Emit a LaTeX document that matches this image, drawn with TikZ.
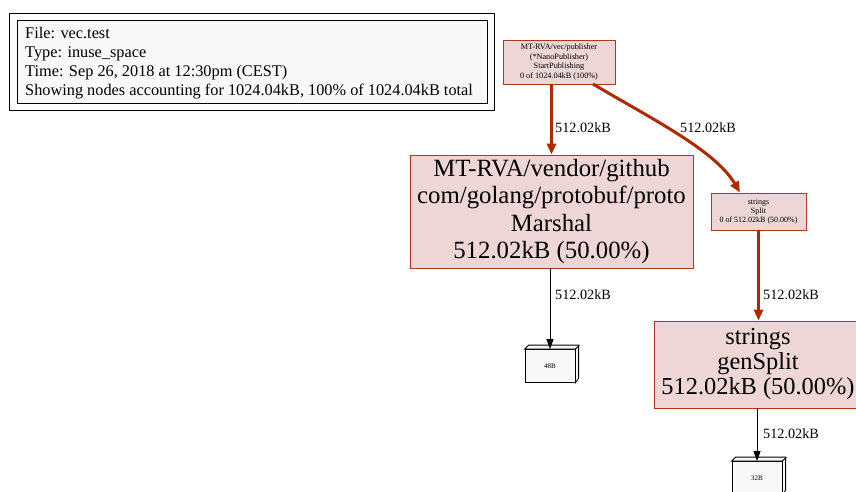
\documentclass[tikz,border=0pt]{standalone}
\usepackage{fontspec}
\setmainfont{Liberation Serif}
\usetikzlibrary{arrows.meta}
\definecolor{nodefill}{HTML}{EDD6D5}
\definecolor{nodeedge}{HTML}{B2361E}
\definecolor{hotedge}{HTML}{B22800}
\definecolor{boxfill}{HTML}{F8F8F8}
\tikzset{
  fn/.style={draw=nodeedge, fill=nodefill, line width=0.8pt, align=center, inner sep=0pt},
  hot/.style={draw=hotedge, line width=3pt, -{Triangle[length=11pt,width=9pt]}},
  cold/.style={draw=black, line width=0.8pt, -{Triangle[length=10pt,width=7pt]}},
  elabel/.style={font=\fontsize{14.2}{16}\selectfont, anchor=west, inner sep=0pt},
}
\begin{document}
\begin{tikzpicture}[x=1pt,y=-1pt]
\useasboundingbox (0,0) rectangle (856,491);
% legend
\draw[line width=0.8pt] (9,13) rectangle (494,110);
\node[draw, fill=boxfill, line width=0.8pt, minimum width=470pt, minimum height=83pt, anchor=north west, inner sep=0pt] (legendbox) at (17,20) {};
\node[anchor=north west, align=left, inner sep=0pt, font=\fontsize{16.3}{19}\selectfont] (legend) at (25,26.5)
 {File: vec.test\\Type: inuse\_space\\Time: Sep 26, 2018 at 12:30pm (CEST)\\Showing nodes accounting for 1024.04kB, 100\% of 1024.04kB total};
% nodes
\node[fn, minimum width=112pt, minimum height=44pt, font=\fontsize{8.2}{9.6}\selectfont] (pub) at (559,62)
 {MT-RVA/vec/publisher\\(*NanoPublisher)\\StartPublishing\\0 of 1024.04kB (100\%)};
\node[fn, minimum width=283pt, minimum height=113pt, font=\fontsize{24.8}{27.3}\selectfont] (marshal) at (551.5,211.5)
 {MT-RVA/vendor/github\\com/golang/protobuf/proto\\Marshal\\512.02kB (50.00\%)};
\node[fn, minimum width=95pt, minimum height=37pt, font=\fontsize{8}{9.2}\selectfont] (split) at (758.5,211.5)
 {strings\\Split\\0 of 512.02kB (50.00\%)};
\node[fn, minimum width=208pt, minimum height=87pt, font=\fontsize{24.4}{25}\selectfont] (gensplit) at (758,364.5)
 {strings\\genSplit\\512.02kB (50.00\%)};
% box3d nodes
\node[draw, fill=boxfill, line width=0.8pt, minimum width=50pt, minimum height=33pt, inner sep=0pt, font=\fontsize{7}{8}\selectfont] (b48) at (550,366) {48B};
\draw[line width=0.8pt, fill=boxfill] (b48.north west) -- ++(4,-4) -- ++(50,0) -- ++(0,33) -- (b48.south east) -- (b48.north east) -- cycle;
\draw[line width=0.8pt] (b48.north east) -- ++(4,-4);
\node[draw, fill=boxfill, line width=0.8pt, minimum width=50pt, minimum height=33pt, inner sep=0pt, font=\fontsize{7}{8}\selectfont] (b32) at (757,478) {32B};
\draw[line width=0.8pt, fill=boxfill] (b32.north west) -- ++(4,-4) -- ++(50,0) -- ++(0,33) -- (b32.south east) -- (b32.north east) -- cycle;
\draw[line width=0.8pt] (b32.north east) -- ++(4,-4);
% edges
\draw[hot] (pub.south -| marshal.north) -- (marshal.north);
\node[elabel] (l1) at (555,128) {512.02kB};
\coordinate (cs) at (593,84);
\draw[hot] (cs) .. controls (650,118) and (715,150) .. (split.north -| 740,0);
\node[elabel] (l2) at (680,128) {512.02kB};
\draw[hot] (split.south) -- (gensplit.north -| split.south);
\node[elabel] (l3) at (763,295) {512.02kB};
\draw[cold] (marshal.south -| b48.north) -- (b48.north);
\node[elabel] (l4) at (555,295) {512.02kB};
\draw[cold] (gensplit.south -| b32.north) -- (b32.north);
\node[elabel] (l5) at (763,434) {512.02kB};
\end{tikzpicture}
\end{document}
